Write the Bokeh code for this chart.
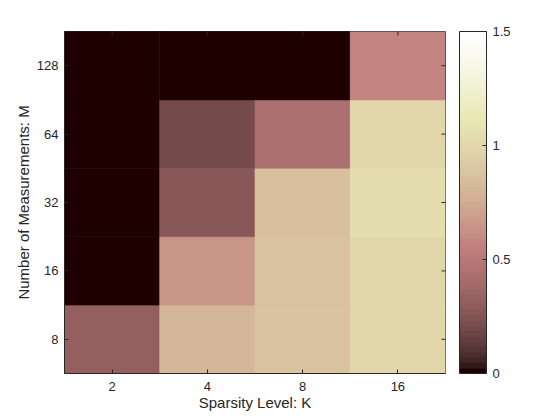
import numpy as np
from bokeh.plotting import figure
from bokeh.models import (ColumnDataSource, LinearColorMapper, ColorBar, FixedTicker, Range1d)
from bokeh.embed import file_html
from bokeh.resources import INLINE

# ---- data ----
K_levels = ["2", "4", "8", "16"]
M_levels = ["8", "16", "32", "64", "128"]
# values per K column, ordered by M_levels
vals_K2 = [0.31, 0.0, 0.0, 0.0, 0.0]
vals_K4 = [0.80, 0.64, 0.26, 0.20, 0.0]
vals_K8 = [0.88, 0.88, 0.86, 0.43, 0.0]
vals_K16 = [1.00, 1.00, 1.05, 1.00, 0.58]
cbar_ticks = [0, 0.5, 1, 1.5]

# ---- MATLAB "pink" colormap (64) ----
m = 64
n = int(3 / 8 * m)
r_hot = np.concatenate([np.arange(1, n + 1) / n, np.ones(m - n)])
g_hot = np.concatenate([np.zeros(n), np.arange(1, n + 1) / n, np.ones(m - 2 * n)])
b_hot = np.concatenate([np.zeros(2 * n), np.arange(1, m - 2 * n + 1) / (m - 2 * n)])
gray = np.arange(m) / (m - 1)
R = np.sqrt((2 * gray + r_hot) / 3)
G = np.sqrt((2 * gray + g_hot) / 3)
B = np.sqrt((2 * gray + b_hot) / 3)
palette = ["#%02x%02x%02x" % (int(round(r * 255)), int(round(g * 255)), int(round(b * 255)))
           for r, g, b in zip(R, G, B)]

# cell index positions (image-style: column i, row j)
kx = list(range(1, len(K_levels) + 1))
my = list(range(1, len(M_levels) + 1))

xs, ys, vs = [], [], []
for xi, col in zip(kx, [vals_K2, vals_K4, vals_K8, vals_K16]):
    for yj, v in zip(my, col):
        xs.append(xi)
        ys.append(yj)
        vs.append(v)
src = ColumnDataSource(dict(x=xs, y=ys, v=vs))

mapper = LinearColorMapper(palette=palette, low=0, high=1.5)

FONT = "Liberation Sans"
TXT = "#262626"

x_lo, x_hi = 0.5, len(K_levels) + 0.5
y_lo, y_hi = 0.5, len(M_levels) + 0.5

p = figure(frame_width=381, frame_height=342,
           x_range=Range1d(x_lo, x_hi), y_range=Range1d(y_lo, y_hi),
           output_backend="svg", toolbar_location=None,
           min_border_left=64, min_border_right=100, min_border_top=31, min_border_bottom=30)
cmap = {"field": "v", "transform": mapper}
p.rect(x="x", y="y", width=1, height=1, source=src,
       fill_color=cmap, line_color=cmap, line_width=0.6)

p.grid.visible = False
p.outline_line_color = TXT
p.outline_line_width = 1
p.background_fill_color = "white"

# mirrored inward ticks on top and right edges (clipped to the frame)
p.scatter(x=kx, y=[y_hi] * len(kx), marker="dash", angle=np.pi / 2, size=8,
          line_color=TXT, line_width=1)
p.scatter(x=[x_hi] * len(my), y=my, marker="dash", size=8,
          line_color=TXT, line_width=1)

bottom_ax = p.below[0]
left_ax = p.left[0]
bottom_ax.ticker = FixedTicker(ticks=kx)
left_ax.ticker = FixedTicker(ticks=my)
bottom_ax.major_label_overrides = {x: lab for x, lab in zip(kx, K_levels)}
left_ax.major_label_overrides = {y: lab for y, lab in zip(my, M_levels)}

for ax in (bottom_ax, left_ax):
    ax.major_tick_in = 4
    ax.major_tick_out = 0
    ax.minor_tick_line_color = None
    ax.axis_line_color = TXT
    ax.major_tick_line_color = TXT
    ax.major_label_text_font = FONT
    ax.major_label_text_font_size = "13px"
    ax.major_label_text_color = TXT
    ax.axis_label_text_font = FONT
    ax.axis_label_text_font_size = "15px"
    ax.axis_label_text_font_style = "normal"
    ax.axis_label_text_color = TXT

bottom_ax.axis_label = "Sparsity Level: K"
left_ax.axis_label = "Number of Measurements: M"
bottom_ax.major_label_standoff = 8
bottom_ax.axis_label_standoff = 0
left_ax.major_label_standoff = 6
left_ax.axis_label_standoff = 2

cb = ColorBar(color_mapper=mapper, width=27, height=342, padding=0, margin=0,
              location=(14, 0),
              ticker=FixedTicker(ticks=cbar_ticks),
              major_label_overrides={0: "0", 0.5: "0.5", 1: "1", 1.5: "1.5"},
              major_tick_in=4, major_tick_out=0, major_tick_line_color=TXT,
              bar_line_color=TXT, border_line_color=None,
              major_label_text_font=FONT, major_label_text_font_size="13px",
              major_label_text_color=TXT, label_standoff=6,
              background_fill_color=None)
p.add_layout(cb, "right")

open("out.html", "w").write(file_html(p, INLINE))
